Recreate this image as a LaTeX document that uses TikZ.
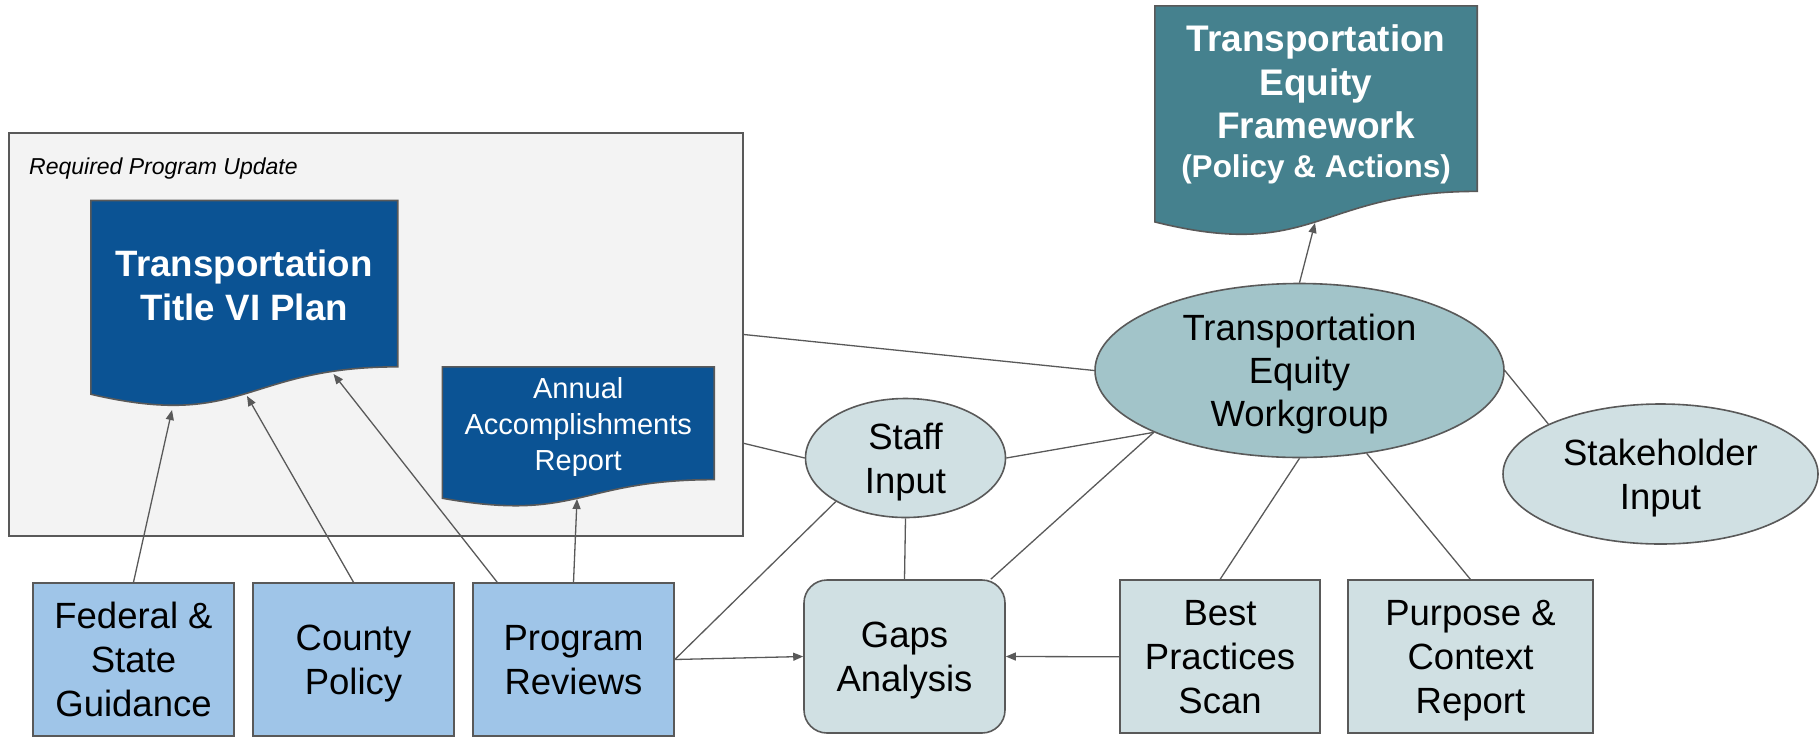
\documentclass[tikz,border=0pt]{standalone}
\usepackage{fontspec}
\setmainfont{Liberation Sans}
\usetikzlibrary{arrows.meta,calc,shapes.geometric}

\definecolor{docblue}{HTML}{0B5394}
\definecolor{docteal}{HTML}{45818E}
\definecolor{wgfill}{HTML}{A2C4C9}
\definecolor{inputfill}{HTML}{D0E0E3}
\definecolor{srcfill}{HTML}{9FC5E8}
\definecolor{panelfill}{HTML}{F3F3F3}
\definecolor{edge}{HTML}{595959}

% line strut whose box is centred on the capital height
\newcommand\capstrut{\rule[-0.21em]{0pt}{1.136em}}
\newcommand\bodyfont{\fontsize{36.5}{44}\selectfont}

% document outline (wavy bottom) over the frame node #1
\newcommand\docoutline[2]{%
  \path[#2] (#1.north west) -- (#1.north east)
    -- ($(#1.north east)!0.802!(#1.south east)$)
    .. controls ($(#1.north)!0.802!(#1.south)$) and ($(#1.north)!1.1075!(#1.south)$)
    .. ($(#1.north west)!0.934!(#1.south west)$) -- cycle;}

\begin{document}
\begin{tikzpicture}[x=1pt,y=-1pt,
  every node/.style={inner sep=0pt, align=center},
  shapeedge/.style={draw=edge, line width=1.6pt},
  docframe/.style={rectangle, draw=none},
  srcbox/.style={shapeedge, fill=srcfill, rectangle,
    minimum width=201pt, minimum height=153pt, font=\bodyfont},
  inbox/.style={shapeedge, fill=inputfill, rectangle,
    minimum height=153pt, font=\bodyfont},
  inoval/.style={shapeedge, fill=inputfill, ellipse, inner ysep=-25pt, font=\bodyfont},
  link/.style={draw=edge, line width=1.3pt},
  flow/.style={link, -{Triangle[length=10pt,width=8pt]}},
]
\useasboundingbox (0,0) rectangle (1819,737);

% container for the required program update
\node[shapeedge, fill=panelfill, rectangle, minimum width=734pt, minimum height=403pt]
  (upd) at (376,334.5) {};
\node[anchor=west, font=\fontsize{23}{28}\selectfont\itshape] (updlabel) at (29,166)
  {\capstrut Required Program Update};

% Title VI plan document
\node[docframe, minimum width=306.5pt, minimum height=207pt] (tv) at (244.25,304.2) {};
\docoutline{tv}{fill=docblue, draw=edge, line width=1.6pt}
\node[text=white, font=\fontsize{36.7}{44}\selectfont\bfseries] (tvtext) at (244.25,285.5)
  {\capstrut Transportation\\\capstrut Title VI Plan};

% annual report document
\node[docframe, minimum width=271.5pt, minimum height=140.3pt] (an) at (578.25,437.15) {};
\docoutline{an}{fill=docblue, draw=edge, line width=1.6pt}
\node[text=white, font=\fontsize{29}{36}\selectfont] (antext) at (578.25,424)
  {\capstrut Annual\\\capstrut Accomplishments\\\capstrut Report};

% equity framework document
\node[docframe, minimum width=322pt, minimum height=231pt] (fw) at (1316,121.5) {};
\docoutline{fw}{fill=docteal, draw=edge, line width=1.6pt}
\node[text=white, font=\fontsize{37}{43.5}\selectfont\bfseries] (fwtext) at (1316,100.6)
  {\capstrut Transportation\\\capstrut Equity\\\capstrut Framework\\[-4.7pt]%
   {\fontsize{31.5}{43.5}\selectfont\capstrut (Policy \& Actions)}};

% source boxes
\node[srcbox] (fed) at (133.5,659.5) {\capstrut Federal \&\\\capstrut State\\\capstrut Guidance};
\node[srcbox] (county) at (353.5,659.5) {\capstrut County\\\capstrut Policy};
\node[srcbox] (prog) at (573.5,659.5) {\capstrut Program\\\capstrut Reviews};

% inputs and analysis
\node[inbox, minimum width=201pt, rounded corners=23pt] (gaps) at (904.5,656.5)
  {\capstrut Gaps\\\capstrut Analysis};
\node[inbox, minimum width=200pt] (best) at (1220,656.75)
  {\capstrut Best\\\capstrut Practices\\\capstrut Scan};
\node[inbox, minimum width=245pt] (purpose) at (1470.5,656.75)
  {\capstrut Purpose \&\\\capstrut Context\\\capstrut Report};
\node[inoval, minimum width=200pt, minimum height=119pt] (staff) at (905.5,458)
  {\capstrut Staff\\\capstrut Input};
\node[inoval, minimum width=315pt, minimum height=140pt] (stake) at (1660.5,474)
  {\capstrut Stakeholder\\\capstrut Input};
\node[shapeedge, fill=wgfill, ellipse, inner ysep=-30pt, font=\fontsize{36.5}{43}\selectfont,
  minimum width=409pt, minimum height=174pt] (wg) at (1299.5,370.5)
  {\capstrut Transportation\\\capstrut Equity\\\capstrut Workgroup};

% arrow ends on the wavy document edges
\coordinate (tvFed) at (172,410);
\coordinate (tvCounty) at (247,396);
\coordinate (tvProg) at (333.5,374);
\coordinate (anProg) at (577,499);
\coordinate (fwWg) at (1315,223);
\coordinate (updSide) at ($(upd.north east)!0.769!(upd.south east)$);

% connectors
\draw[flow] (fed.north) -- (tvFed);
\draw[flow] (county.north) -- (tvCounty);
\draw[flow] ([xshift=25pt]prog.north west) -- (tvProg);
\draw[flow] (prog.north) -- (anProg);
\draw[flow] (wg.north) -- (fwWg);
\draw[flow] (prog.east) -- (gaps.west);
\draw[flow] (best.west) -- (gaps.east);
\draw[link] (upd.east) -- (wg.west);
\draw[link] (updSide) -- (staff.west);
\draw[link] (prog.east) -- (staff.212);
\draw[link] (staff.east) -- (wg.203);
\draw[link] ([xshift=-15pt]gaps.north east) -- (wg.203);
\draw[link] (staff.south) -- (gaps.north);
\draw[link] (wg.south) -- (best.north);
\draw[link] (wg.-51) -- (purpose.north);
\draw[link] (wg.east) -- (stake.156);
\end{tikzpicture}
\end{document}
